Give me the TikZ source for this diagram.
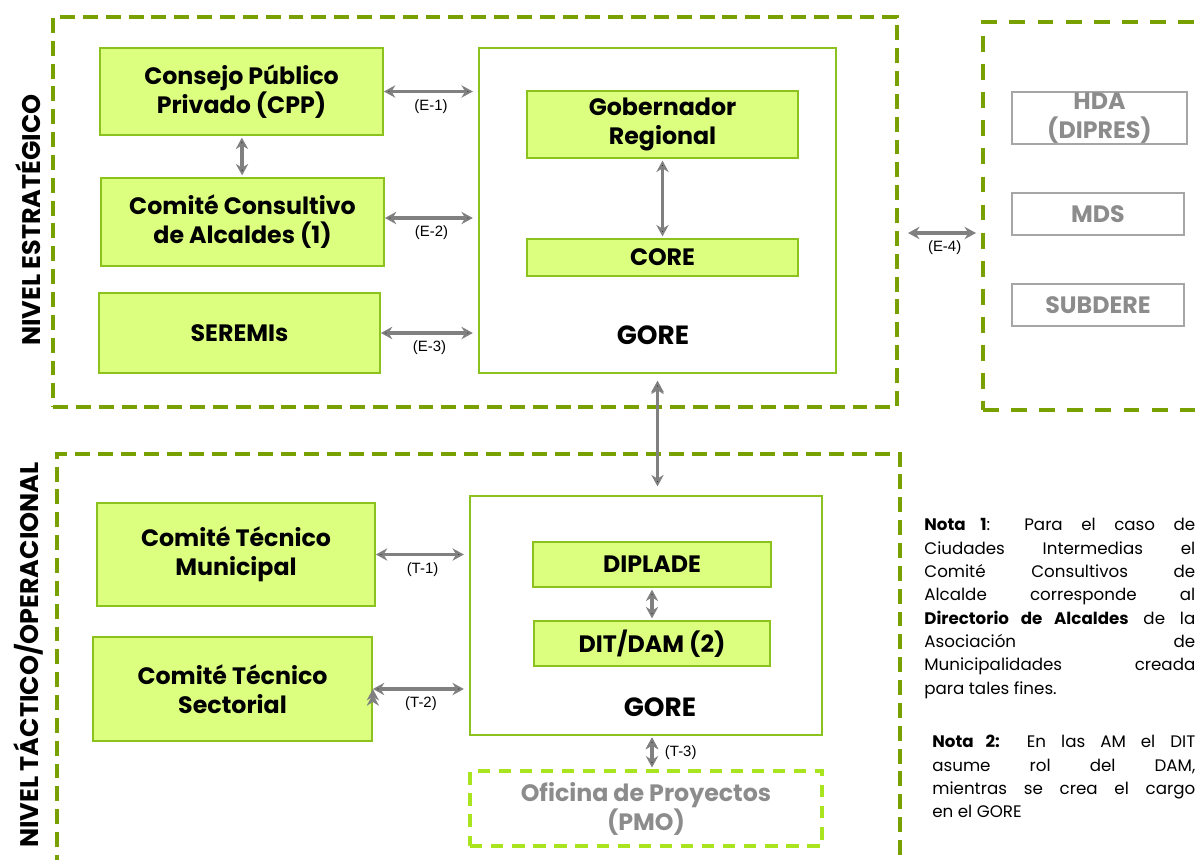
\documentclass[tikz,border=0pt]{standalone}
\usepackage{fontspec}
\setmainfont{Poppins}
\newfontfamily\arialfont{Liberation Sans}
\usetikzlibrary{arrows.meta, positioning}

\definecolor{olivo}{HTML}{78A000}
\definecolor{lima}{HTML}{DDFF80}
\definecolor{bordelima}{HTML}{8CC21E}
\definecolor{limaclaro}{HTML}{A9E51F}
\definecolor{gris}{HTML}{808080}
\definecolor{grisclaro}{HTML}{A6A6A6}
\definecolor{gristexto}{HTML}{8C8C8C}

\tikzset{
  zona/.style={draw=olivo, line width=2pt, dash pattern=on 8.5pt off 4.5pt, inner sep=0pt},
  caja/.style={draw=bordelima, fill=lima, line width=1pt, inner sep=0pt, align=center,
    font=\bfseries\fontsize{13.5}{16.5}\selectfont},
  gore/.style={draw=bordelima, fill=white, line width=1pt, inner sep=0pt},
  externa/.style={draw=grisclaro, line width=1pt, inner sep=0pt, align=center, text=gristexto,
    font=\bfseries\fontsize{13.5}{16.5}\selectfont},
  titulo/.style={font=\bfseries\fontsize{15}{18}\selectfont},
  nivel/.style={rotate=90, font=\bfseries\fontsize{14.5}{17}\selectfont},
  biflecha/.style={{Stealth[length=6.5pt,width=7pt]}-{Stealth[length=6.5pt,width=7pt]},
    draw=gris, line width=2.1pt},
  etiq/.style={font=\arialfont\fontsize{8.5}{10}\selectfont, text=black},
  nota/.style={anchor=north west, inner sep=0pt, align=justify,
    font=\fontsize{9.5}{13.3}\selectfont}
}

\begin{document}
\begin{tikzpicture}[x=0.02cm, y=-0.02cm]
  \useasboundingbox (0,0) rectangle (1195,859);
  \clip (0,0) rectangle (1195,859);

  % zonas
  \node (estrat) [zona, minimum width=16.88cm, minimum height=7.8cm] at (475,212) {};
  \node (ext) [zona, dash pattern=on 9pt off 7pt, minimum width=5.54cm, minimum height=7.76cm] at (1121.5,216) {};
  \node (tactico) [zona, minimum width=16.86cm, minimum height=8.52cm] at (478.5,667) {};

  \node (nivel1) [nivel] at (28,220) {NIVEL ESTRATÉGICO};
  \node (nivel2) [nivel] at (28,655) {NIVEL TÁCTICO/OPERACIONAL};

  % nivel estrategico
  \node (cpp) [caja, minimum width=5.66cm, minimum height=1.74cm] at (241.5,91.5) {Consejo Público\\Privado (CPP)};
  \node (cca) [caja, minimum width=5.66cm, minimum height=1.76cm] at (242.5,222) {Comité Consultivo\\de Alcaldes (1)};
  \node (seremi) [caja, minimum width=5.62cm, minimum height=1.6cm] at (239.5,333) {SEREMIs};
  \node (gore1) [gore, minimum width=7.14cm, minimum height=6.5cm] at (657.5,210.5) {};
  \node (gobreg) [caja, minimum width=5.42cm, minimum height=1.34cm] at (662.5,124.5) {Gobernador\\Regional};
  \node (core) [caja, minimum width=5.42cm, minimum height=0.74cm] at (662.5,257.5) {CORE};
  \node (gorelbl1) [titulo] at (653,335) {GORE};

  \node (hda) [externa, minimum width=3.5cm, minimum height=1.04cm] at (1099.5,118) {HDA\\(DIPRES)};
  \node (mds) [externa, minimum width=3.44cm, minimum height=0.84cm] at (1098,214) {MDS};
  \node (subdere) [externa, minimum width=3.44cm, minimum height=0.84cm] at (1098,305) {SUBDERE};

  % nivel tactico/operacional
  \node (ctm) [caja, minimum width=5.56cm, minimum height=2.06cm] at (236,554.5) {Comité Técnico\\Municipal};
  \node (cts) [caja, minimum width=5.58cm, minimum height=2.08cm] at (232.5,689) {Comité Técnico\\Sectorial};
  \node (gore2) [gore, minimum width=7.04cm, minimum height=4.78cm] at (646,615.5) {};
  \node (diplade) [caja, minimum width=4.76cm, minimum height=0.9cm] at (652,564.5) {DIPLADE};
  \node (ditdam) [caja, minimum width=4.72cm, minimum height=0.9cm] at (652,643.5) {DIT/DAM (2)};
  \node (gorelbl2) [titulo] at (660,707) {GORE};
  \node (pmo) [draw=limaclaro, line width=2pt, dash pattern=on 7pt off 5pt, text=gristexto, align=center,
    font=\bfseries\fontsize{13.5}{16.5}\selectfont, minimum width=7.04cm, minimum height=1.5cm]
    at (646,808.5) {Oficina de Proyectos\\(PMO)};

  % notas
  \node (nota1) [nota, text width=5.42cm] at (924,518)
    {\textbf{Nota 1}: Para el caso de\linebreak Ciudades Intermedias el\linebreak
     Comité Consultivos de\linebreak Alcalde corresponde al\linebreak
     \textbf{Directorio de Alcaldes} de la\linebreak Asociación de\linebreak
     Municipalidades creada\linebreak para tales fines.};
  \node (nota2) [nota, text width=5.26cm] at (932,735)
    {\textbf{Nota 2:} En las AM el DIT\linebreak asume rol del DAM,\linebreak
     mientras se crea el cargo\linebreak en el GORE};

  % relaciones
  \path [biflecha, shorten >=3pt]
    (cpp.east) edge node [etiq, below] {(E-1)} (cpp.east -| gore1.west)
    ([yshift=0.08cm]cca.east) edge node [etiq, below] {(E-2)} ([yshift=0.08cm]cca.east -| gore1.west)
    (seremi.east) edge node [etiq, below] {(E-3)} (seremi.east -| gore1.west)
    (ctm.east) edge node [etiq, below] {(T-1)} (ctm.east -| gore2.west)
    (cts.east) edge node [etiq, below] {(T-2)} (cts.east -| gore2.west);
  \path [biflecha, shorten <=1pt, shorten >=1pt]
    (cpp) edge (cca)
    (gobreg) edge (core)
    (diplade) edge (ditdam)
    (ditdam.center |- gore2.south) edge node [etiq, right=3pt] {(T-3)} (ditdam.center |- pmo.north);
  \path [biflecha, shorten <=4pt, shorten >=5pt]
    (gore1.south) edge (gore1.south |- gore2.north);
  \coordinate (e4ini) at (908,233);
  \coordinate (e4fin) at (ext.west |- e4ini);
  \draw [biflecha, shorten >=3pt] (e4ini) -- node [etiq, below] {(E-4)} (e4fin);
\end{tikzpicture}
\end{document}
